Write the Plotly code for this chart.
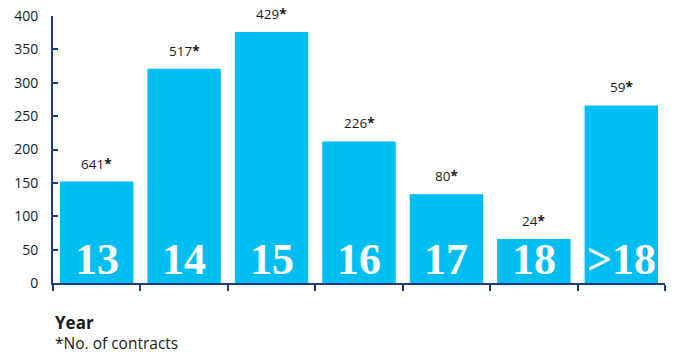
import plotly.graph_objects as go

categories = ["13", "14", "15", "16", "17", "18", ">18"]
values = [152, 321, 376, 212, 133, 66, 266]
contracts = [641, 517, 429, 226, 80, 24, 59]
y_ticks = [0, 50, 100, 150, 200, 250, 300, 350, 400]

x_idx = list(range(len(categories)))
bar_color = "#00BEF2"
axis_color = "#1F3C78"
text_color = "#1a1a1a"

fig = go.Figure()
fig.add_trace(go.Bar(
    x=x_idx, y=values, marker=dict(color=bar_color, line=dict(width=0)),
    width=0.84, hoverinfo="skip",
))

for i, (v, c, cat) in enumerate(zip(values, contracts, categories)):
    fig.add_annotation(x=i, y=v, text=f"{c}<b>*</b>", showarrow=False,
                       yanchor="bottom", yshift=7,
                       font=dict(family="Open Sans", size=13.5, color=text_color))
    fig.add_annotation(x=i, y=0, text=f"<b>{cat}</b>", showarrow=False,
                       yanchor="bottom", yshift=-3,
                       font=dict(family="Liberation Serif", size=44, color="white"))

fig.add_annotation(xref="paper", yref="paper", x=0, y=0, xanchor="left", yanchor="top",
                   yshift=-26, text="<b>Year</b>", showarrow=False,
                   font=dict(family="Open Sans", size=17, color=text_color))
fig.add_annotation(xref="paper", yref="paper", x=0, y=0, xanchor="left", yanchor="top",
                   yshift=-47, text="*No. of contracts", showarrow=False,
                   font=dict(family="Open Sans", size=15.5, color=text_color))

fig.update_layout(
    width=678, height=354,
    margin=dict(l=53, r=13, t=16, b=71, autoexpand=False),
    plot_bgcolor="white", paper_bgcolor="white",
    showlegend=False,
)
fig.update_xaxes(
    range=[-0.5, len(categories) - 0.5],
    tickvals=[i - 0.5 for i in range(len(categories) + 1)],
    showticklabels=False, automargin=False,
    ticks="outside", ticklen=6, tickwidth=1.5, tickcolor=axis_color,
    showline=True, linecolor=axis_color, linewidth=2,
    showgrid=False, zeroline=False,
)
fig.update_yaxes(
    range=[0, 400], tickvals=y_ticks,
    ticks="inside", ticklen=5, tickwidth=1.5, tickcolor=axis_color,
    showline=True, linecolor=axis_color, linewidth=2,
    showgrid=False, zeroline=False, automargin=False,
    tickfont=dict(family="Open Sans", size=14, color=text_color),
    ticklabelstandoff=10,
)

fig.write_html("out.html")
